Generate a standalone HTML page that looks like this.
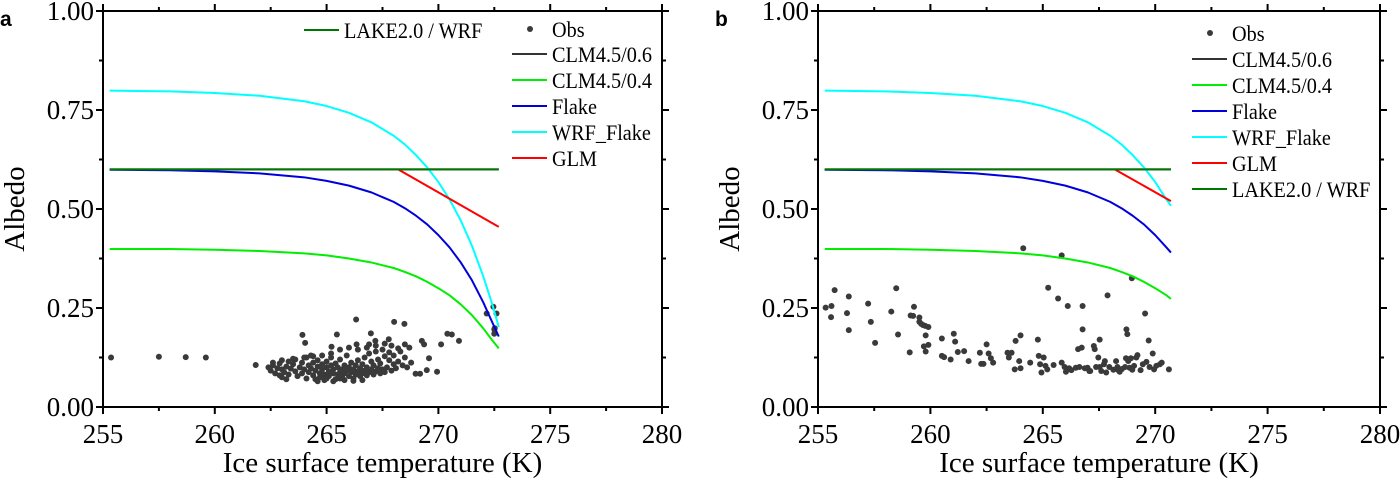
<!DOCTYPE html>
<html><head><meta charset="utf-8"><style>
body{margin:0;background:#fff;}
svg{display:block;}
svg text{font-family:"Liberation Serif","DejaVu Serif",serif;}
</style></head><body>
<svg id="chart" width="1400" height="485" viewBox="0 0 1400 485"></svg>
<script>
// ---- shared model curve data ----
const curveT = [255.3,258,260,262,264,265,266,267,268,268.5,269,269.5,270,270.5,271,271.5,272,272.4,272.7];
const cyanA  = [0.799,0.797,0.793,0.786,0.772,0.760,0.743,0.719,0.685,0.663,0.636,0.605,0.568,0.524,0.471,0.407,0.331,0.261,0.202];
const blueA  = [0.599,0.598,0.595,0.590,0.580,0.571,0.559,0.542,0.518,0.502,0.483,0.461,0.434,0.403,0.365,0.320,0.265,0.215,0.178];
const greenA = [0.399,0.399,0.397,0.394,0.388,0.383,0.375,0.365,0.351,0.341,0.330,0.316,0.300,0.282,0.259,0.232,0.199,0.169,0.148];
const curveTb = [255.3,258,260,262,264,265,266,267,268,268.5,269,269.5,270,270.5,270.7];
const cyanAb  = [0.799,0.797,0.793,0.786,0.772,0.760,0.743,0.719,0.685,0.663,0.636,0.605,0.568,0.524,0.508];
const blueAb  = [0.599,0.598,0.595,0.590,0.580,0.571,0.559,0.542,0.518,0.502,0.483,0.461,0.434,0.403,0.390];
const greenAb = [0.399,0.399,0.397,0.394,0.388,0.383,0.375,0.365,0.351,0.341,0.330,0.316,0.300,0.282,0.273];
const glmT_a = [268.2,272.7], glmA_a = [0.6,0.455];
const glmT_b = [268.2,270.7], glmA_b = [0.6,0.52];
const lakeT_a = [255.3,272.7], lakeA_a = [0.6,0.6];
const lakeT_b = [255.3,270.7], lakeA_b = [0.6,0.6];
const xTicks = [255,260,265,270,275,280];
const yTicks = [0,0.25,0.5,0.75,1.0];
const yTickLabels = ["0.00","0.25","0.50","0.75","1.00"];
// ---- observations panel a ----
const obsTa = [255.36,257.5,258.7,259.6,261.83,263.92,264.04,266.32,265.46,265.22,266.98,266.34,266.9,267.18,267.78,268.02,268.48,268.5,269.26,269.36,270.12,270.4,270.6,270.92,269.58,268.78,268.98,269.18,269.48,269.94,272.16,272.46,272.6,272.5,272.5,272.52,
262.4,262.5,262.6,262.7,262.8,262.9,263.0,263.0,263.1,263.2,263.3,263.3,263.4,263.5,263.6,263.6,263.7,263.8,263.9,263.9,264.0,264.1,264.1,264.2,264.2,264.3,264.3,264.4,264.4,264.5,264.5,264.6,264.6,264.7,264.7,264.8,264.8,264.9,264.9,265.0,265.0,265.0,265.1,265.1,265.2,265.2,265.3,265.3,265.4,265.4,265.5,265.5,265.6,265.6,265.7,265.7,265.8,265.8,265.9,265.9,266.0,266.0,266.1,266.1,266.2,266.2,266.3,266.3,266.4,266.4,266.5,266.5,266.6,266.6,266.7,266.7,266.8,266.8,266.9,266.9,267.0,267.0,267.1,267.1,267.2,267.2,267.3,267.3,267.4,267.4,267.5,267.5,267.6,267.6,267.7,267.8,267.8,267.9,268.0,268.0,268.1,268.2,268.3,268.4,268.5,268.6,268.7,268.2,267.9,267.6,267.2,266.8,266.4,266.0,265.6,265.2,264.8,264.4,264.0,263.5,263.0,262.6,265.8,265.3,264.9,264.6,265.6,266.2,263.2,262.9,266.6];
const obsAa = [0.125,0.127,0.126,0.125,0.106,0.182,0.162,0.221,0.183,0.152,0.186,0.158,0.158,0.167,0.171,0.215,0.210,0.158,0.167,0.158,0.158,0.185,0.183,0.167,0.123,0.112,0.084,0.084,0.093,0.089,0.236,0.253,0.236,0.196,0.185,0.199,
0.100,0.092,0.105,0.085,0.098,0.110,0.075,0.095,0.088,0.102,0.115,0.082,0.097,0.108,0.090,0.120,0.078,0.100,0.112,0.085,0.095,0.125,0.072,0.105,0.088,0.130,0.098,0.080,0.112,0.092,0.070,0.118,0.102,0.085,0.075,0.095,0.108,0.068,0.082,0.100,0.115,0.072,0.090,0.078,0.105,0.125,0.085,0.095,0.070,0.110,0.082,0.100,0.088,0.120,0.075,0.095,0.105,0.085,0.092,0.130,0.078,0.100,0.088,0.112,0.072,0.095,0.105,0.082,0.090,0.118,0.098,0.078,0.085,0.108,0.092,0.125,0.080,0.100,0.088,0.135,0.095,0.115,0.082,0.105,0.090,0.140,0.098,0.120,0.085,0.110,0.095,0.145,0.088,0.128,0.100,0.118,0.138,0.092,0.108,0.130,0.098,0.115,0.140,0.105,0.125,0.100,0.150,0.148,0.155,0.160,0.155,0.150,0.145,0.150,0.145,0.135,0.130,0.128,0.125,0.122,0.118,0.112,0.068,0.065,0.075,0.065,0.072,0.066,0.070,0.080,0.068];
// ---- observations panel b ----
const obsTb = [255.34,255.6,255.58,255.74,256.29,256.37,256.37,257.23,257.35,257.54,258.26,258.48,258.56,259.08,259.12,259.23,259.27,259.51,259.51,259.59,259.67,259.77,259.91,259.79,259.71,259.79,259.91,260.51,260.51,260.61,260.9,261.04,261.1,261.22,261.5,261.7,262.2,262.26,262.36,262.5,262.59,262.69,262.79,263.43,263.49,263.61,263.75,263.79,263.95,264.01,264.01,264.13,264.44,264.78,264.82,264.88,264.94,265.04,265.12,265.2,265.24,265.48,265.68,265.84,265.84,265.97,266.03,266.11,266.17,266.27,266.47,266.57,266.63,266.73,266.77,266.77,266.87,266.99,267.07,267.11,267.27,267.31,267.37,267.47,267.53,267.53,267.6,267.72,267.76,267.82,267.88,267.96,268.14,268.26,268.32,268.36,268.42,268.52,268.66,268.7,268.72,268.76,268.8,268.86,268.92,268.96,268.98,269.06,269.16,269.21,269.35,269.45,269.55,269.61,269.71,269.75,269.89,269.95,270.05,270.21,270.29,270.61];
const obsAb = [0.251,0.255,0.227,0.295,0.237,0.279,0.194,0.261,0.215,0.162,0.241,0.300,0.183,0.138,0.231,0.230,0.253,0.226,0.215,0.210,0.207,0.205,0.202,0.181,0.153,0.140,0.157,0.173,0.129,0.126,0.120,0.185,0.165,0.139,0.141,0.116,0.137,0.109,0.109,0.158,0.135,0.123,0.112,0.137,0.125,0.137,0.095,0.167,0.116,0.098,0.181,0.401,0.112,0.170,0.129,0.108,0.087,0.125,0.104,0.095,0.301,0.106,0.274,0.112,0.383,0.101,0.089,0.255,0.098,0.093,0.099,0.146,0.101,0.150,0.196,0.255,0.098,0.099,0.091,0.091,0.154,0.146,0.101,0.125,0.170,0.101,0.091,0.108,0.116,0.087,0.282,0.101,0.094,0.116,0.101,0.093,0.089,0.096,0.101,0.123,0.196,0.184,0.116,0.099,0.123,0.325,0.094,0.104,0.125,0.131,0.093,0.108,0.236,0.114,0.168,0.101,0.135,0.095,0.104,0.108,0.112,0.095];

const NS='http://www.w3.org/2000/svg';
const svg=document.getElementById('chart');
const SERIF='Liberation Serif, DejaVu Serif, serif';
function mk(tag,attrs,parent){const e=document.createElementNS(NS,tag);for(const k in attrs)e.setAttribute(k,attrs[k]);(parent||svg).appendChild(e);return e;}

function panel(id,L,R,letter,series,obsT,obsA,legend){
  const T=11,B=407;
  const g=mk('g',{});
  
  
  const X=v=>L+(v-255)/25*(R-L);
  const Y=v=>B-v*(B-T);
  const lt=mk('text',{x:L-103,y:26,style:'font-family:"Liberation Sans",sans-serif','font-weight':'bold','font-size':'21'},g);
  lt.textContent=letter;
  
  
  for(let v=255;v<=280;v+=2.5){const maj=(v%5===0);const l=maj?7:4;
    const t1=mk('line',{x1:X(v),x2:X(v),y1:B,y2:B+l,stroke:'#000','stroke-width':2},g);
    
    mk('line',{x1:X(v),x2:X(v),y1:T,y2:T-l,stroke:'#000','stroke-width':2},g);}
  for(let v=0;v<=1.0001;v+=0.125){const maj=(Math.round(v*1000)%250===0);const l=maj?7:4;
    const t2=mk('line',{x1:L,x2:L-l,y1:Y(v),y2:Y(v),stroke:'#000','stroke-width':2},g);
    
    mk('line',{x1:R,x2:R+l,y1:Y(v),y2:Y(v),stroke:'#000','stroke-width':2},g);}
  xTicks.forEach(v=>{const t=mk('text',{x:X(v),y:B+36,'text-anchor':'middle','font-size':'27','font-family':SERIF},g);t.textContent=v;
    });
  yTicks.forEach((v,i)=>{const t=mk('text',{x:L-9,y:Y(v)+9,'text-anchor':'end','font-size':'27','font-family':SERIF},g);t.textContent=yTickLabels[i];
    });
  const xt=mk('text',{x:(L+R)/2,y:472,'text-anchor':'middle','font-size':'29','font-family':SERIF},g);xt.textContent='Ice surface temperature (K)';
  
  const yt=mk('text',{x:0,y:0,'text-anchor':'middle','font-size':'29','font-family':SERIF,transform:`translate(${L-79},${(T+B)/2}) rotate(-90)`},g);yt.textContent='Albedo';
  
  obsT.forEach((t,i)=>{const c=mk('circle',{cx:X(t),cy:Y(obsA[i]),r:3,fill:'#3a3a3a'},g);
    });
  series.forEach(s=>{const p=mk('polyline',{points:s.t.map((t,i)=>X(t)+','+Y(s.a[i])).join(' '),fill:'none',stroke:s.c,'stroke-width':2,'stroke-linejoin':'round'},g);
    });
  const f=mk('rect',{x:L,y:T,width:R-L,height:B-T,fill:'none',stroke:'#000','stroke-width':2},g);
  
  legend.forEach(e=>{
    const lg=mk('g',{},g);
    
    
    if(e.dot) mk('circle',{cx:e.x+18,cy:e.y,r:3,fill:'#3a3a3a'},lg);
    else mk('line',{x1:e.x,x2:e.x+35,y1:e.y,y2:e.y,stroke:e.c,'stroke-width':2},lg);
    const t=mk('text',{x:e.x+40,y:e.y+8,'font-size':'22','font-family':SERIF,transform:`translate(${e.x+40},0) scale(0.92,1) translate(${-(e.x+40)},0)`},lg);t.textContent=e.label;});
}
const colors={cyan:'#00ffff',blue:'#0000dd',green:'#00ee00',red:'#ff0000',dk:'#007700',blk:'#333'};
panel('a',103,662,'a',[
  {n:'clm06',t:lakeT_a,a:lakeA_a,c:colors.blk},
  {n:'clm04',t:curveT,a:greenA,c:colors.green},
  {n:'flake',t:curveT,a:blueA,c:colors.blue},
  {n:'wrf-flake',t:curveT,a:cyanA,c:colors.cyan},
  {n:'glm',t:glmT_a,a:glmA_a,c:colors.red},
  {n:'lake2',t:lakeT_a,a:lakeA_a,c:colors.dk}],obsTa,obsAa,[
  {x:304,y:30,c:colors.dk,label:'LAKE2.0 / WRF'},
  {x:512,y:29,dot:true,label:'Obs'},
  {x:512,y:54,c:colors.blk,label:'CLM4.5/0.6'},
  {x:512,y:80,c:colors.green,label:'CLM4.5/0.4'},
  {x:512,y:106,c:colors.blue,label:'Flake'},
  {x:512,y:132,c:colors.cyan,label:'WRF_Flake'},
  {x:512,y:158,c:colors.red,label:'GLM'}]);
panel('b',818,1380,'b',[
  {n:'clm06',t:lakeT_b,a:lakeA_b,c:colors.blk},
  {n:'clm04',t:curveTb,a:greenAb,c:colors.green},
  {n:'flake',t:curveTb,a:blueAb,c:colors.blue},
  {n:'wrf-flake',t:curveTb,a:cyanAb,c:colors.cyan},
  {n:'glm',t:glmT_b,a:glmA_b,c:colors.red},
  {n:'lake2',t:lakeT_b,a:lakeA_b,c:colors.dk}],obsTb,obsAb,[
  {x:1192,y:33,dot:true,label:'Obs'},
  {x:1192,y:59,c:colors.blk,label:'CLM4.5/0.6'},
  {x:1192,y:85,c:colors.green,label:'CLM4.5/0.4'},
  {x:1192,y:111,c:colors.blue,label:'Flake'},
  {x:1192,y:137,c:colors.cyan,label:'WRF_Flake'},
  {x:1192,y:163,c:colors.red,label:'GLM'},
  {x:1192,y:189,c:colors.dk,label:'LAKE2.0 / WRF'}]);
</script>
</body></html>
